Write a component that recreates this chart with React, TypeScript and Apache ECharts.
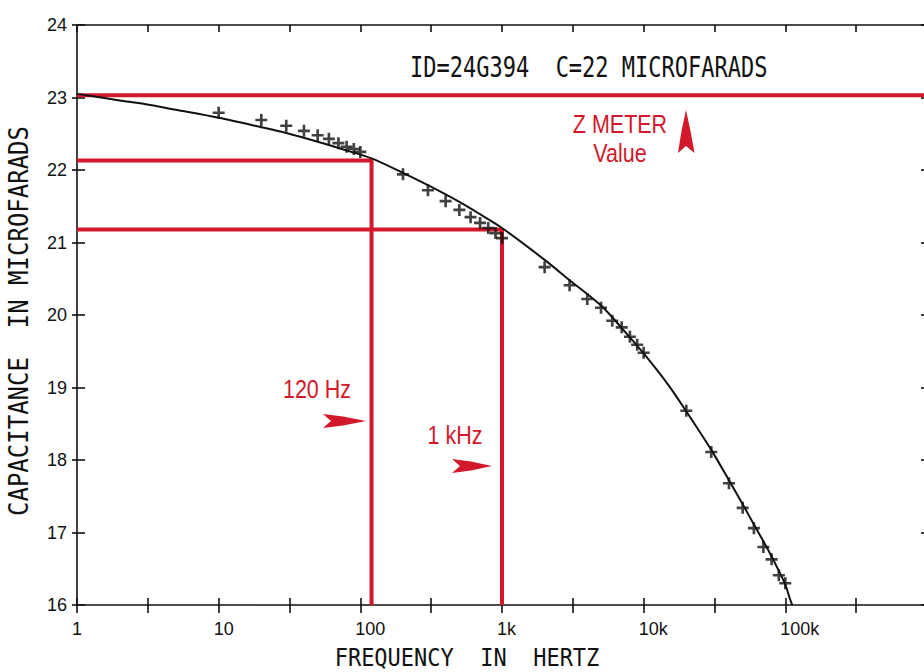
import React, { useEffect, useRef } from "react";
import * as echarts from "echarts";

// Fitted curve (frequency in Hz, capacitance in microfarads)
const curveHz = [1, 2, 3, 5, 10, 20, 30, 50, 80, 120, 200, 300, 500, 700, 1000, 2000, 3000, 5000, 7000, 10000, 15000, 20000, 30000, 40000, 50000, 60000, 70000, 80000, 90000, 100000, 108000, 112000];
const curveUF = [23.05, 22.96, 22.91, 22.83, 22.72, 22.59, 22.51, 22.39, 22.27, 22.16, 21.96, 21.79, 21.56, 21.39, 21.2, 20.76, 20.48, 20.13, 19.82, 19.47, 19.03, 18.67, 18.14, 17.72, 17.39, 17.11, 16.88, 16.67, 16.47, 16.28, 16.08, 16.0];

// Measured points (+ markers)
const measHz = [10, 20, 30, 40, 50, 60, 70, 80, 90, 100, 200, 300, 400, 500, 600, 700, 800, 900, 1000, 2000, 3000, 4000, 5000, 6000, 7000, 8000, 9000, 10000, 20000, 30000, 40000, 50000, 60000, 70000, 80000, 90000, 100000];
const measUF = [22.79, 22.69, 22.61, 22.54, 22.48, 22.43, 22.37, 22.32, 22.29, 22.25, 21.94, 21.72, 21.57, 21.45, 21.35, 21.27, 21.2, 21.13, 21.06, 20.66, 20.41, 20.22, 20.1, 19.92, 19.83, 19.7, 19.59, 19.48, 18.68, 18.11, 17.68, 17.34, 17.06, 16.8, 16.63, 16.41, 16.3];

// Reference readings
const zMeterUF = 23.03;
const ref120Hz = [120, 22.13];
const ref1kHz = [1000, 21.18];

// Axes
const xMinHz = 1;
const xMaxHz = 1e6;
const yMinUF = 16;
const yMaxUF = 24;
const xTickLabels = ["1", "10", "100", "1k", "10k", "100k", ""];

const titleText = "ID=24G394  C=22 MICROFARADS";
const xTitle = "FREQUENCY  IN  HERTZ";
const yTitle = "CAPACITANCE  IN MICROFARADS";

const RED = "#d2182a";
const INK = "#111111";
const PLUS = "path://M3.9,0H6.1V3.9H10V6.1H6.1V10H3.9V6.1H0V3.9H3.9Z";
const MONO = "'DejaVu Sans Mono', monospace";
const SANS = "'Liberation Sans', Arial, sans-serif";

export default function App() {
  const ref = useRef<HTMLDivElement>(null);

  useEffect(() => {
    const chart = echarts.init(ref.current!, undefined, { renderer: "svg" });

    const xLabelFmt = (v: number) => {
      const e = Math.log10(v);
      const r = Math.round(e);
      if (Math.abs(e - r) > 1e-6) return "";
      return xTickLabels[r] ?? "";
    };

    const axisLine = { show: true, lineStyle: { color: INK, width: 1.6 } };
    const tickStyle = { color: INK, width: 1.6 };

    const xBase: any = {
      type: "log",
      logBase: 10,
      min: xMinHz,
      max: xMaxHz,
      interval: 0.5,
      gridIndex: 0,
      splitLine: { show: false },
    };
    const yBase: any = {
      type: "value",
      min: yMinUF,
      max: yMaxUF,
      interval: 1,
      gridIndex: 0,
      splitLine: { show: false },
    };

    const option: any = {
      animation: false,
      backgroundColor: "#ffffff",
      grid: { left: 77, top: 25, right: -3, bottom: 67, containLabel: false, outerBoundsMode: "none" },
      xAxis: [
        {
          ...xBase,
          position: "bottom",
          axisLine,
          axisTick: { show: true, inside: false, length: 8, lineStyle: tickStyle },
          axisLabel: {
            show: true,
            interval: 0,
            formatter: xLabelFmt,
            fontFamily: SANS,
            fontSize: 18,
            color: INK,
            margin: 15,
            align: "left",
            padding: [0, 0, 0, -5],
          },
        },
        {
          ...xBase,
          position: "bottom",
          axisLine: { show: false },
          axisTick: { show: true, inside: true, length: 7, lineStyle: tickStyle },
          axisLabel: { show: false },
        },
        {
          ...xBase,
          position: "top",
          axisLine,
          axisTick: { show: true, inside: true, length: 7, lineStyle: tickStyle },
          axisLabel: { show: false },
        },
      ],
      yAxis: [
        {
          ...yBase,
          position: "left",
          axisLine,
          axisTick: { show: true, inside: false, length: 5, lineStyle: tickStyle },
          axisLabel: {
            show: true,
            fontFamily: SANS,
            fontSize: 18,
            color: INK,
            margin: 10,
            padding: [0, 0, 6, 0],
          },
        },
        {
          ...yBase,
          position: "left",
          axisLine: { show: false },
          axisTick: { show: true, inside: true, length: 8, lineStyle: tickStyle },
          axisLabel: { show: false },
        },
        {
          ...yBase,
          position: "right",
          axisLine,
          axisTick: { show: true, inside: true, length: 6, lineStyle: tickStyle },
          axisLabel: { show: false },
        },
      ],
      series: [
        {
          type: "line",
          name: "Z meter",
          data: [[xMinHz, zMeterUF], [xMaxHz, zMeterUF]],
          symbol: "none",
          lineStyle: { color: RED, width: 4 },
          silent: true,
          z: 1,
        },
        {
          type: "line",
          name: "120 Hz",
          data: [[xMinHz, ref120Hz[1]], [ref120Hz[0], ref120Hz[1]], [ref120Hz[0], yMinUF]],
          symbol: "none",
          lineStyle: { color: RED, width: 4 },
          silent: true,
          z: 1,
        },
        {
          type: "line",
          name: "1 kHz",
          data: [[xMinHz, ref1kHz[1]], [ref1kHz[0], ref1kHz[1]], [ref1kHz[0], yMinUF]],
          symbol: "none",
          lineStyle: { color: RED, width: 4 },
          silent: true,
          z: 1,
        },
        {
          type: "line",
          name: "curve",
          data: curveHz.map((h, i) => [h, curveUF[i]]),
          smooth: 0.3,
          symbol: "none",
          lineStyle: { color: INK, width: 2 },
          silent: true,
          z: 3,
        },
        {
          type: "scatter",
          name: "measured",
          data: measHz.map((h, i) => [h, measUF[i]]),
          symbol: PLUS,
          symbolSize: 12,
          itemStyle: { color: INK },
          silent: true,
          z: 4,
        },
      ],
      graphic: [
        {
          type: "text",
          x: 410,
          y: 68,
          scaleY: 1.25,
          style: { text: titleText, fontFamily: MONO, fontSize: 22, fill: INK, align: "left", verticalAlign: "middle" },
        },
        {
          type: "text",
          x: 467,
          y: 657,
          scaleY: 1.15,
          style: { text: xTitle, fontFamily: MONO, fontSize: 22, fill: INK, align: "center", verticalAlign: "middle" },
        },
        {
          type: "text",
          x: 19,
          y: 321,
          rotation: Math.PI / 2,
          scaleY: 1.12,
          style: { text: yTitle, fontFamily: MONO, fontSize: 24, fill: INK, align: "center", verticalAlign: "middle" },
        },
        {
          type: "text",
          x: 620,
          y: 124,
          scaleX: 0.86,
          style: { text: "Z METER", fontFamily: SANS, fontSize: 25, fill: RED, align: "center", verticalAlign: "middle" },
        },
        {
          type: "text",
          x: 620,
          y: 153,
          scaleX: 0.86,
          style: { text: "Value", fontFamily: SANS, fontSize: 25, fill: RED, align: "center", verticalAlign: "middle" },
        },
        {
          type: "text",
          x: 317,
          y: 389,
          scaleX: 0.86,
          style: { text: "120 Hz", fontFamily: SANS, fontSize: 25, fill: RED, align: "center", verticalAlign: "middle" },
        },
        {
          type: "text",
          x: 455,
          y: 435,
          scaleX: 0.86,
          style: { text: "1 kHz", fontFamily: SANS, fontSize: 25, fill: RED, align: "center", verticalAlign: "middle" },
        },
        {
          type: "polygon",
          shape: { points: [[366, 421], [343, 416.5], [323, 414], [331, 421], [323, 428], [343, 425.5]] },
          style: { fill: RED },
        },
        {
          type: "polygon",
          shape: { points: [[492, 466], [471, 461.5], [452, 459], [460, 466], [452, 473], [471, 470.5]] },
          style: { fill: RED },
        },
        {
          type: "polygon",
          shape: { points: [[686, 110], [681.5, 131], [678, 153], [686, 146], [694.5, 153], [690.5, 131]] },
          style: { fill: RED },
        },
      ],
    };

    chart.setOption(option);
    return () => chart.dispose();
  }, []);

  return (
    <div
      ref={ref}
      style={{ position: "fixed", left: 0, top: 0, width: 924, height: 672, background: "#ffffff" }}
    />
  );
}
